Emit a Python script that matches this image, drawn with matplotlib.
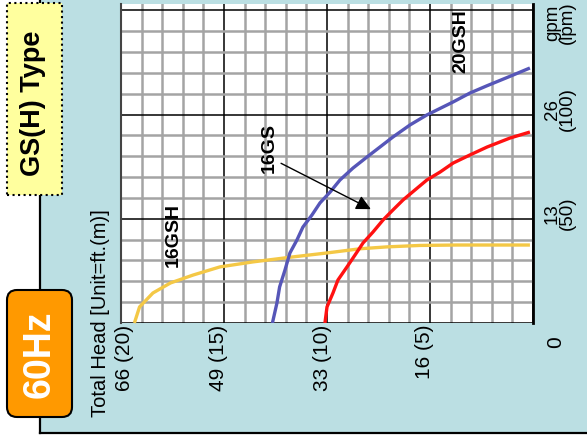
import numpy as np
import matplotlib
matplotlib.use('Agg')
import matplotlib.pyplot as plt
from matplotlib import patches, lines, transforms

plt.rcParams['font.family'] = ['Liberation Sans', 'DejaVu Sans']

# pump curves, head in m, flow in lpm
gsh16_head = [19.35, 19.1, 18.45, 17.6, 16.5, 15.2, 13.6, 11.65, 10.0, 8.4, 7.1, 5.5, 3.7, 0.15]
gsh16_flow = [0.0, 7.7, 14.4, 19.2, 23.0, 26.9, 29.3, 31.7, 33.6, 35.6, 36.5, 37.2, 37.4, 37.4]

gsh20_head = [12.65, 12.43, 12.3, 12.04, 11.8, 11.46, 11.17, 10.73, 10.34, 9.85, 9.37, 8.74,
              8.06, 7.43, 6.8, 5.97, 5.15, 3.88, 3.06, 2.23, 1.12, 0.15]
gsh20_flow = [0.0, 9.6, 17.3, 25.4, 33.6, 39.8, 46.0, 51.8, 57.6, 62.8, 68.6, 74.3,
              79.6, 84.4, 89.2, 95.0, 99.8, 106.0, 110.3, 113.8, 118.3, 122.3]

gs16_head = [10.1, 10.0, 9.71, 9.47, 9.03, 8.64, 8.25, 7.77, 7.28, 6.8, 6.31, 5.15, 4.51,
             3.88, 3.06, 2.23, 1.12, 0.15]
gs16_flow = [0.0, 7.7, 14.4, 20.6, 26.9, 32.6, 38.4, 43.6, 49.4, 54.2, 59.0, 68.6, 72.4,
             76.7, 80.6, 84.4, 88.7, 91.6]

head_ticks = [20, 15, 10, 5]
head_labels = ['66 (20)', '49 (15)', '33 (10)', '16 (5)']
flow_ticks = [50, 100]
flow_labels = ['13\n(50)', '26\n(100)']

# small nudges of the head labels relative to their grid lines (m)
label_shift = [-0.15, 0.28, 0.24, 0.29]

W, H = 587, 437
fig = plt.figure(figsize=(W / 100, H / 100), dpi=100)
fig.patch.set_facecolor('white')
inch = fig.dpi_scale_trans

# light blue panel with black left / bottom border
fig.patches.append(patches.Rectangle((0.40, 0.04), 5.6, 4.4, transform=inch,
                                     facecolor='#bbdfe3', edgecolor='none', zorder=-2))
fig.add_artist(lines.Line2D([0.40, 0.40], [0.04, 4.37], transform=inch, color='black', lw=1.6, zorder=-1))
fig.add_artist(lines.Line2D([0.40, 5.87], [0.04, 0.04], transform=inch, color='black', lw=1.6, zorder=-1))

ax = fig.add_axes([121 / W, (H - 323) / H, (533 - 121) / W, (323 - 4) / H])
ax.set_facecolor('white')
ax.set_xlim(20, 0)
ax.set_ylim(0, 153)

ax.set_xticks([0, 5, 10, 15, 20])
ax.set_xticks(np.arange(0, 21, 1), minor=True)
ax.set_yticks([0, 50, 100, 150])
ax.set_yticks(np.arange(0, 151, 10), minor=True)
ax.grid(which='minor', color='#a4a4a4', lw=1.8, zorder=0)
ax.grid(which='major', color='black', lw=1.1, zorder=0.5)
ax.tick_params(which='both', length=0, labelbottom=False, labelleft=False)
ax.set_axisbelow(True)
for side in ['top', 'bottom']:
    ax.spines[side].set_visible(False)
ax.spines['left'].set_color('#444444')
ax.spines['left'].set_linewidth(1.5)
ax.spines['right'].set_color('black')
ax.spines['right'].set_linewidth(2)

ax.plot(gsh16_head, gsh16_flow, color='#f4c846', lw=2.4, solid_capstyle='butt', clip_on=False)
ax.plot(gsh20_head, gsh20_flow, color='#5656b8', lw=2.4, solid_capstyle='butt')
ax.plot(gs16_head, gs16_flow, color='#ff1111', lw=2.4, solid_capstyle='butt')

ax.text(17.45, 42.2, '16GSH', rotation=90, ha='center', va='center', fontsize=14, fontweight='bold')
ax.text(3.5, 135.3, '20GSH', rotation=90, ha='center', va='center', fontsize=14, fontweight='bold')
ax.text(12.8, 83.9, '16GS', rotation=90, ha='center', va='center', fontsize=14, fontweight='bold')
ax.annotate('', xy=(7.75, 54.0), xytext=(12.35, 77.2),
            arrowprops=dict(arrowstyle='-|>', mutation_scale=22, color='black', lw=1))

# head tick labels below the grid
below = transforms.blended_transform_factory(ax.transData, ax.transAxes)
for h, lab, dx in zip(head_ticks, head_labels, label_shift):
    ax.text(h + dx, -0.006, lab, transform=below, rotation=90, ha='center', va='top',
            fontsize=15, clip_on=False)
ax.text(-1.1, -0.06, '0', transform=below, rotation=90, ha='center', va='center',
        fontsize=15, clip_on=False)

# flow tick labels on the right
for q, lab in zip(flow_ticks, flow_labels):
    ax.text(-1.31, q + 2.5, lab, rotation=90, ha='center', va='center', fontsize=13.5,
            linespacing=0.85, clip_on=False)
ax.text(-1.31, 143.9, 'gpm\n(lpm)', rotation=90, ha='center', va='center', fontsize=13.5,
        linespacing=0.85, clip_on=False)

fig.text(100 / W, (H - 313) / H, 'Total Head [Unit=ft.(m)]', rotation=90, ha='center', va='center',
         fontsize=14.5)

# title box
fig.patches.append(patches.Rectangle((0.07, 2.42), 0.55, 1.92, transform=inch, facecolor='#ffff9e',
                                     edgecolor='black', lw=1.5, linestyle=':', zorder=2))
fig.text(0.33, 3.34, 'GS(H) Type', transform=inch, rotation=90, ha='center', va='center',
         fontsize=19.5, fontweight='bold', zorder=3)

# frequency badge
fig.patches.append(patches.FancyBboxPatch((0.07, 0.20), 0.65, 1.27, transform=inch,
                                          boxstyle='round,pad=0,rounding_size=0.1',
                                          facecolor='#ff9900', edgecolor='black', lw=1.5, zorder=2))
fig.text(0.40, 0.83, '60Hz', transform=inch, rotation=90, ha='center', va='center',
         fontsize=27, fontweight='bold', color='white', zorder=3)

fig.savefig('out.png', dpi=100)
